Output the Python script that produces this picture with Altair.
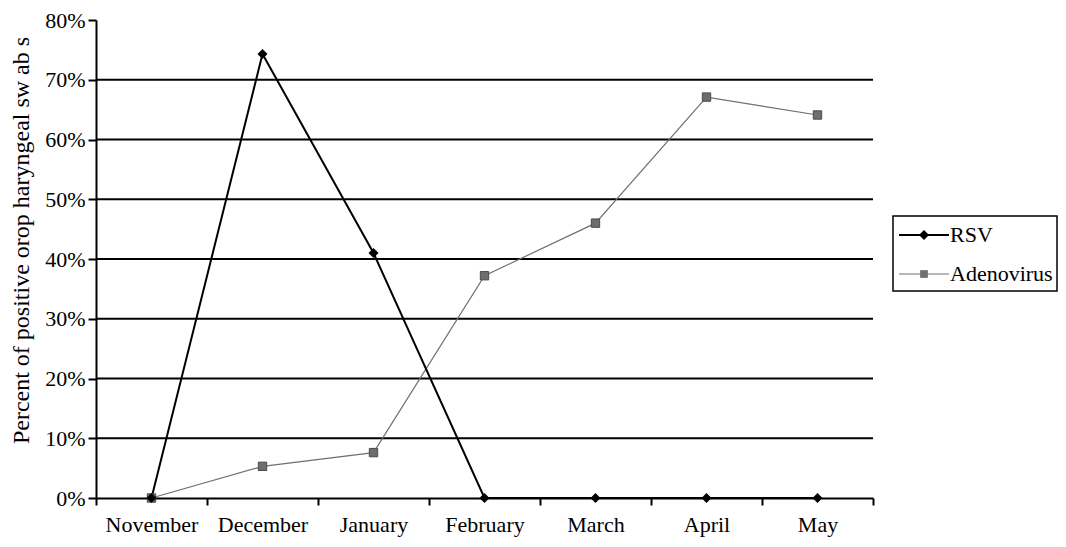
import altair as alt
import pandas as pd

months = ["November", "December", "January", "February", "March", "April", "May"]
rsv = [0.0, 0.743, 0.41, 0.0, 0.0, 0.0, 0.0]
adeno = [0.0, 0.053, 0.076, 0.372, 0.46, 0.671, 0.641]
grid_vals = [0.1, 0.2, 0.3, 0.4, 0.5, 0.6, 0.7]
y_ticks = [0, 0.1, 0.2, 0.3, 0.4, 0.5, 0.6, 0.7, 0.8]
series = ["RSV", "Adenovirus"]

FONT = "Liberation Serif"
W, H = 777, 478

df_rsv = pd.DataFrame({"month": months, "value": rsv})
df_ad = pd.DataFrame({"month": months, "value": adeno})
df_grid = pd.DataFrame({"value": grid_vals})

xscale = alt.Scale(type="band", domain=months, paddingInner=0, paddingOuter=0)
yscale = alt.Scale(domain=[0, 0.8], nice=False)

xenc = alt.X("month:N", scale=xscale, sort=months,
             axis=alt.Axis(title=None, tickBand="extent", labelAngle=0, labelFont=FONT,
                           labelFontSize=22, labelColor="black", domainColor="black",
                           domainWidth=2, tickColor="black", tickWidth=2, tickSize=7,
                           labelPadding=9, grid=False))
yenc = alt.Y("value:Q", scale=yscale,
             axis=alt.Axis(title="Percent of positive orop haryngeal sw ab s", format=".0%",
                           values=y_ticks, labelFont=FONT, labelFontSize=22, labelColor="black",
                           titleFont=FONT, titleFontSize=24, titleFontWeight="normal",
                           titleColor="black", titleX=-75, titleY=220, titleBaseline="middle",
                           titleAlign="center", titleAngle=270,
                           domainColor="black", domainWidth=2, tickColor="black",
                           tickWidth=2, tickSize=8, labelPadding=3, grid=False))

grid = alt.Chart(df_grid).mark_rule(color="black", strokeWidth=2).encode(y=yenc)

ad_line = alt.Chart(df_ad).mark_line(color="#707070", strokeWidth=1.2).encode(x=xenc, y=yenc)
ad_pts = alt.Chart(df_ad).mark_point(shape="square", filled=True, color="#6e6e6e", size=70,
                                     stroke="#4a4a4a", strokeWidth=1, opacity=1).encode(x=xenc, y=yenc)
rsv_line = alt.Chart(df_rsv).mark_line(color="black", strokeWidth=2).encode(x=xenc, y=yenc)
rsv_pts = alt.Chart(df_rsv).mark_point(shape="diamond", filled=True, color="black", size=100,
                                       opacity=1).encode(x=xenc, y=yenc)

# manual legend
lx0, lx1, ly0, ly1 = 797, 961, 196, 271
box = alt.Chart(pd.DataFrame({"s": [1]})).mark_rect(fill="white", stroke="black", strokeWidth=1.5).encode(
    x=alt.value(lx0), x2=alt.value(lx1), y=alt.value(ly0), y2=alt.value(ly1))

def legend_entry(name, yy, color, sw, shape, size):
    d = pd.DataFrame({"s": [name]})
    ln = alt.Chart(d).mark_rule(color=color, strokeWidth=sw).encode(
        x=alt.value(lx0 + 6), x2=alt.value(lx0 + 56), y=alt.value(yy))
    pt = alt.Chart(d).mark_point(shape=shape, filled=True, color=color, size=size, opacity=1).encode(
        x=alt.value(lx0 + 31), y=alt.value(yy))
    tx = alt.Chart(d).mark_text(align="left", baseline="middle", font=FONT, fontSize=22,
                                color="black").encode(
        x=alt.value(lx0 + 57), y=alt.value(yy), text="s:N")
    return ln + pt + tx

leg1 = legend_entry(series[0], 215, "black", 2, "diamond", 100)
leg2 = legend_entry(series[1], 254, "#707070", 1.2, "square", 60)

chart = alt.layer(grid, ad_line, rsv_line, ad_pts, rsv_pts, box, leg1, leg2).properties(
    width=W, height=H,
    autosize=alt.AutoSizeParams(type="none"),
    padding={"left": 88, "top": 12, "right": 185, "bottom": 45},
).configure(background="white", view=alt.ViewConfig(stroke=None))

chart.save("out.html", embed_options={"renderer": "svg", "actions": False})
